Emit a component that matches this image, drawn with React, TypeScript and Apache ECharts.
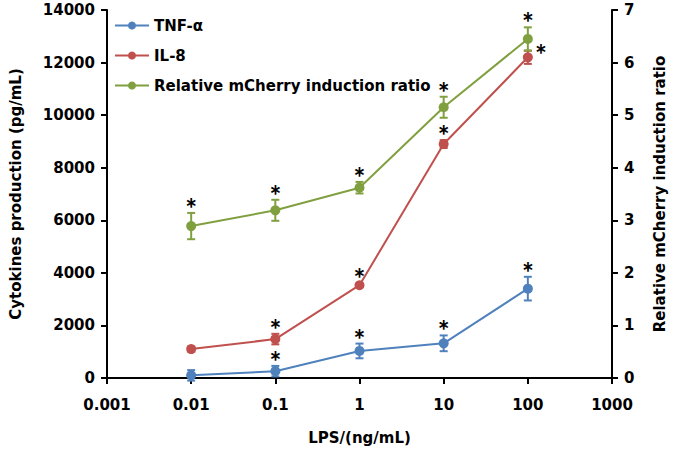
import React, { useEffect, useRef } from "react";
import * as echarts from "echarts";

const doses = [0.01, 0.1, 1, 10, 100];

const tnfMean = [100, 260, 1030, 1320, 3400];
const tnfErr = [200, 200, 280, 300, 450];
const tnfSig = [false, true, true, true, true];

const il8Mean = [1100, 1480, 3530, 8900, 12200];
const il8Err = [100, 200, 70, 150, 250];
const il8Sig = [false, true, true, true, true];
const il8SigSide = ["top", "top", "top", "top", "right"];

const ratioMean = [2.89, 3.19, 3.62, 5.15, 6.45];
const ratioErr = [0.25, 0.2, 0.11, 0.2, 0.22];
const ratioSig = [true, true, true, true, true];

const BLUE = "#4F81BD";
const RED = "#C0504D";
const GREEN = "#80A040";
const FONT = "'DejaVu Sans', sans-serif";
const STAR_FONT = "Lato, sans-serif";

function errData(mean: number[], err: number[]) {
  return doses.map((d, i) => [d, mean[i] - err[i], mean[i] + err[i]]);
}
function sigData(mean: number[], err: number[], sig: boolean[], side?: string[]) {
  const out: any[] = [];
  doses.forEach((d, i) => {
    if (sig[i]) {
      const s = side ? side[i] : "top";
      out.push([d, s === "top" ? mean[i] + err[i] : mean[i], s === "top" ? 0 : 1]);
    }
  });
  return out;
}

const errRender = (color: string) => (params: any, api: any) => {
  const x = api.value(0);
  const lo = api.coord([x, api.value(1)]);
  const hi = api.coord([x, api.value(2)]);
  const w = 4;
  const st = { stroke: color, lineWidth: 2 };
  return {
    type: "group",
    children: [
      { type: "line", shape: { x1: lo[0], y1: lo[1], x2: hi[0], y2: hi[1] }, style: st },
      { type: "line", shape: { x1: lo[0] - w, y1: lo[1], x2: lo[0] + w, y2: lo[1] }, style: st },
      { type: "line", shape: { x1: hi[0] - w, y1: hi[1], x2: hi[0] + w, y2: hi[1] }, style: st },
    ],
  };
};

const sigRender = (params: any, api: any) => {
  const x = api.value(0);
  const p = api.coord([x, api.value(1)]);
  const right = api.value(2) === 1;
  return {
    type: "text",
    x: right ? p[0] + 13 : p[0],
    y: right ? p[1] + 11 : p[1] + 9,
    style: {
      text: "*",
      fontSize: 28,
      fontWeight: "bold",
      fontFamily: STAR_FONT,
      fill: "#000",
      align: "center",
      verticalAlign: "bottom",
    },
  };
};

export default function App() {
  const ref = useRef<HTMLDivElement>(null);
  useEffect(() => {
    if (!ref.current) return;
    const chart = echarts.init(ref.current, null, { renderer: "svg" });
    const axisLabel = { color: "#000", fontSize: 15, fontWeight: "bold" as const, fontFamily: FONT };
    const nameStyle = { color: "#000", fontSize: 15, fontWeight: "bold" as const, fontFamily: FONT };
    const axisLine = { show: true, lineStyle: { color: "#000", width: 2 } };
    const axisTick = { show: true, inside: false, length: 6, lineStyle: { color: "#000", width: 2 } };
    const lineSeries = (name: string, color: string, data: number[], yAxisIndex: number) => ({
      name,
      type: "line",
      yAxisIndex,
      data: doses.map((d, i) => [d, data[i]]),
      symbol: "circle",
      symbolSize: 10,
      itemStyle: { color },
      lineStyle: { color, width: 2 },
      z: 3,
    });
    chart.setOption({
      animation: false,
      backgroundColor: "#fff",
      grid: { left: 100, right: 60, top: 10, bottom: 70 },
      legend: {
        data: ["TNF-α", "IL-8", "Relative mCherry induction ratio"],
        orient: "vertical",
        left: 109,
        top: 13,
        itemGap: 15,
        itemWidth: 34,
        itemHeight: 10,
        textStyle: { color: "#000", fontSize: 15, fontWeight: "bold", fontFamily: FONT },
      },
      xAxis: {
        type: "log",
        logBase: 10,
        min: 0.001,
        max: 1000,
        name: "LPS/(ng/mL)",
        nameLocation: "middle",
        nameGap: 52,
        nameTextStyle: nameStyle,
        axisLine,
        axisTick,
        axisLabel: {
          ...axisLabel,
          margin: 19,
          formatter: (v: number) => String(Number(v.toPrecision(6))),
        },
        splitLine: { show: false },
        minorTick: { show: false },
      },
      yAxis: [
        {
          type: "value",
          min: 0,
          max: 14000,
          interval: 2000,
          name: "Cytokines production (pg/mL)",
          nameLocation: "middle",
          nameGap: 84,
          nameTextStyle: nameStyle,
          axisLine,
          axisTick,
          axisLabel: { ...axisLabel, margin: 12, formatter: (v: number) => String(v) },
          splitLine: { show: false },
        },
        {
          type: "value",
          min: 0,
          max: 7,
          interval: 1,
          position: "right",
          name: "Relative mCherry induction ratio",
          nameLocation: "middle",
          nameGap: 40,
          nameTextStyle: nameStyle,
          axisLine,
          axisTick,
          axisLabel: { ...axisLabel, margin: 12, formatter: (v: number) => String(v) },
          splitLine: { show: false },
        },
      ],
      series: [
        lineSeries("TNF-α", BLUE, tnfMean, 0),
        lineSeries("IL-8", RED, il8Mean, 0),
        lineSeries("Relative mCherry induction ratio", GREEN, ratioMean, 1),
        { type: "custom", yAxisIndex: 0, renderItem: errRender(BLUE), data: errData(tnfMean, tnfErr), encode: { x: 0, y: [1, 2] }, z: 2 },
        { type: "custom", yAxisIndex: 0, renderItem: errRender(RED), data: errData(il8Mean, il8Err), encode: { x: 0, y: [1, 2] }, z: 2 },
        { type: "custom", yAxisIndex: 1, renderItem: errRender(GREEN), data: errData(ratioMean, ratioErr), encode: { x: 0, y: [1, 2] }, z: 2 },
        { type: "custom", yAxisIndex: 0, renderItem: sigRender, data: sigData(tnfMean, tnfErr, tnfSig), encode: { x: 0, y: 1 }, z: 4 },
        { type: "custom", yAxisIndex: 0, renderItem: sigRender, data: sigData(il8Mean, il8Err, il8Sig, il8SigSide), encode: { x: 0, y: 1 }, z: 4 },
        { type: "custom", yAxisIndex: 1, renderItem: sigRender, data: sigData(ratioMean, ratioErr, ratioSig), encode: { x: 0, y: 1 }, z: 4 },
      ],
    });
    return () => chart.dispose();
  }, []);
  return <div ref={ref} style={{ width: 675, height: 450, position: "absolute", left: 0, top: 0 }} />;
}
